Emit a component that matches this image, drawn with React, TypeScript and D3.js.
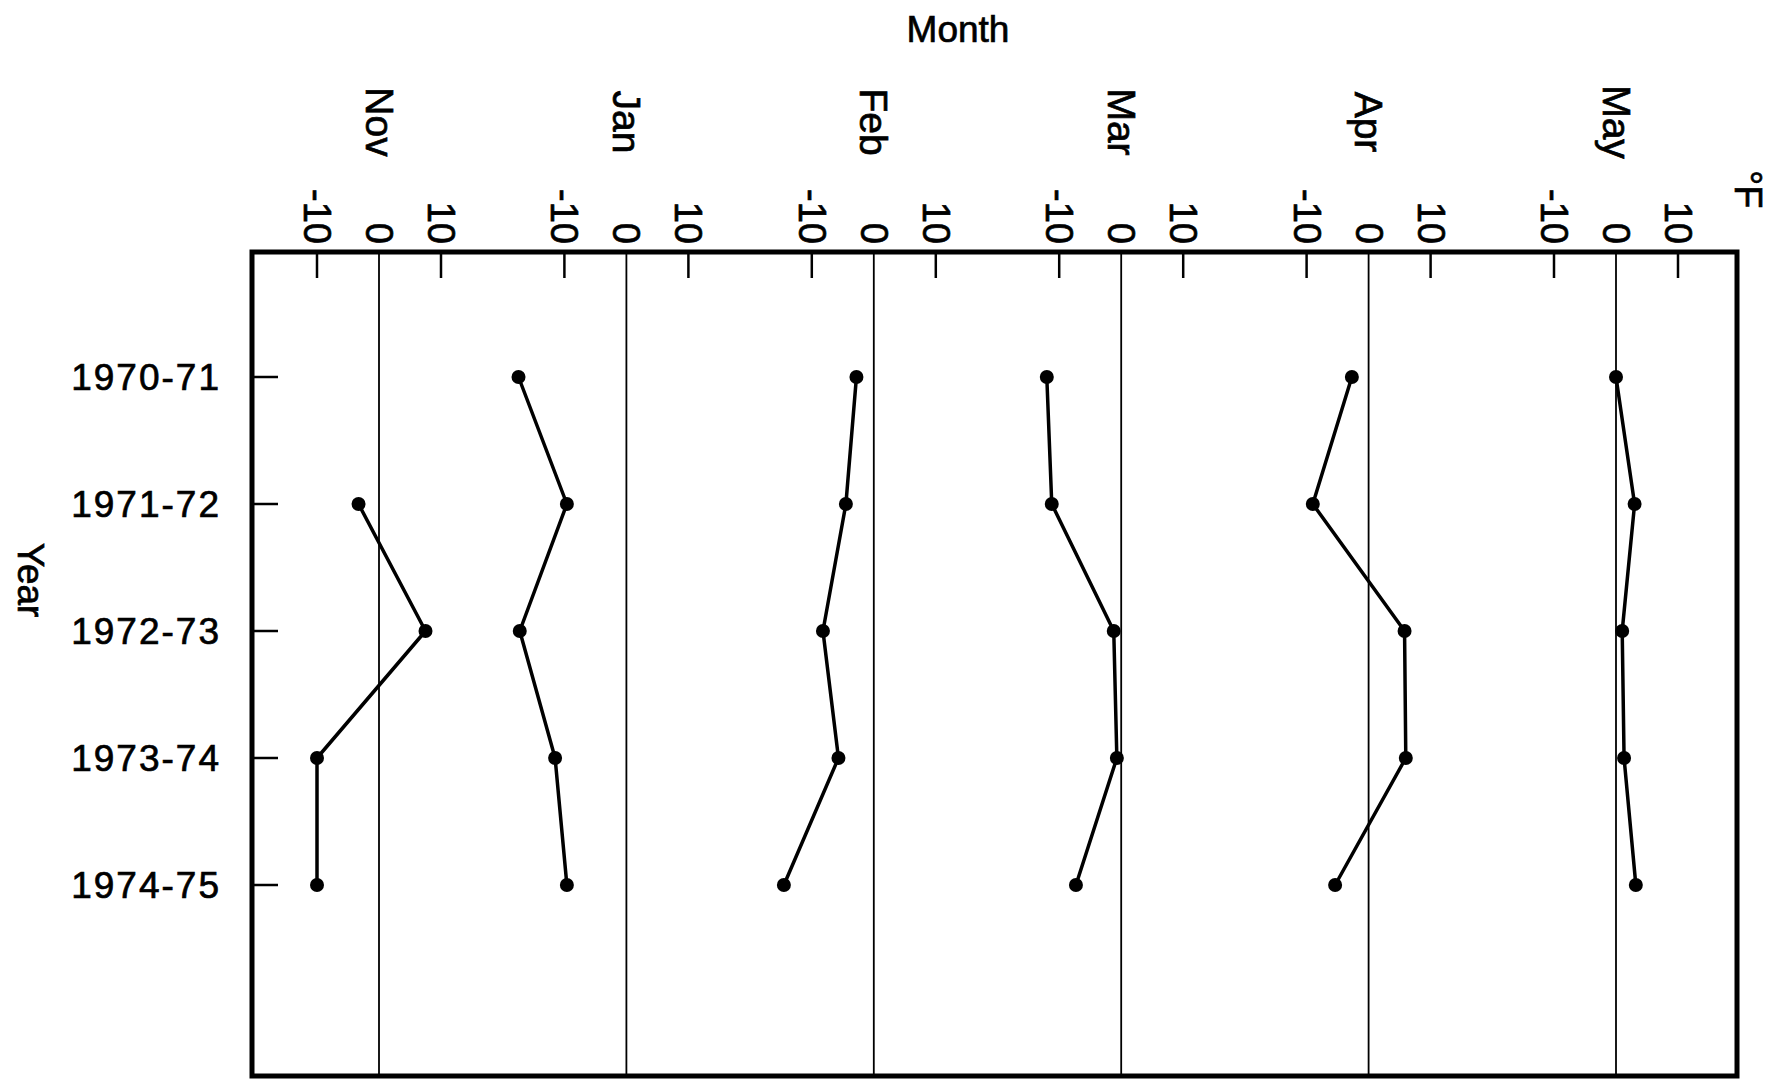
import React from 'react'
import * as d3 from 'd3'

const months = ['Nov', 'Jan', 'Feb', 'Mar', 'Apr', 'May']
const years = ['1970-71', '1971-72', '1972-73', '1973-74', '1974-75']
const tickValues = [-10, 0, 10]

// departure from normal, °F, one value per year (null = no reading)
const nov = [null, -3.3, 7.5, -10, -10]
const jan = [-17.4, -9.6, -17.2, -11.5, -9.6]
const feb = [-2.8, -4.5, -8.2, -5.7, -14.5]
const mar = [-12, -11.2, -1.2, -0.7, -7.3]
const apr = [-2.7, -9, 5.8, 6, -5.4]
const may = [0, 3, 1, 1.3, 3.2]

const series: (number | null)[][] = [nov, jan, feb, mar, apr, may]

const W = 1769
const H = 1079
const frame = { left: 252, top: 252, right: 1737, bottom: 1076 }
const font = '"Liberation Sans", Arial, sans-serif'
// scanned lettering is a little heavier than the plain font
const ink = { fill: '#000', stroke: '#000', strokeWidth: 0.7 }

function App() {
    const xMonth = d3.scalePoint<string>().domain(months).range([379, 1616])
    const xTemp = d3.scaleLinear().domain([-10, 10]).range([-62, 62])
    const y = d3.scalePoint<string>().domain(years).range([377, 885])

    const line = (mi: number) =>
        d3.line<number | null>()
            .defined(v => v !== null)
            .x(v => (xMonth(months[mi]) as number) + xTemp(v as number))
            .y((_, i) => y(years[i]) as number)

    return (
        <svg width={W} height={H} style={{ position: 'absolute', left: 0, top: 0, background: '#fff' }}>
            <text x={958} y={42} fontFamily={font} fontSize={37} textAnchor="middle" {...ink}>Month</text>

            {months.map((m, mi) => {
                const cx = xMonth(m) as number
                return (
                    <g key={m}>
                        <text transform={`translate(${cx},122) rotate(90)`} fontFamily={font} fontSize={39}
                            textAnchor="middle" dominantBaseline="central" {...ink}>{m}</text>
                        {tickValues.map(t => (
                            <g key={t}>
                                <text transform={`translate(${cx + xTemp(t)},244) rotate(90)`} fontFamily={font}
                                    fontSize={38} textAnchor="end" dominantBaseline="central" {...ink}>{t}</text>
                                {t === 0
                                    ? <line x1={cx} x2={cx} y1={frame.top} y2={frame.bottom} stroke="#000" strokeWidth={1.8} />
                                    : <line x1={cx + xTemp(t)} x2={cx + xTemp(t)} y1={frame.top} y2={frame.top + 26} stroke="#000" strokeWidth={2.5} />}
                            </g>
                        ))}
                    </g>
                )
            })}

            <text transform="translate(1748,170) rotate(90)" fontFamily={font} fontSize={38} dominantBaseline="central" {...ink}>°F</text>

            {years.map(yr => (
                <g key={yr}>
                    <line x1={frame.left} x2={frame.left + 26} y1={y(yr)} y2={y(yr)} stroke="#000" strokeWidth={2.5} />
                    <text x={221} y={y(yr)} fontFamily={font} fontSize={37} letterSpacing={2}
                        textAnchor="end" dominantBaseline="central" {...ink}>{yr}</text>
                </g>
            ))}

            <text transform="translate(30,580) rotate(90)" fontFamily={font} fontSize={37}
                textAnchor="middle" dominantBaseline="central" {...ink}>Year</text>

            <rect x={frame.left} y={frame.top} width={frame.right - frame.left} height={frame.bottom - frame.top}
                fill="none" stroke="#000" strokeWidth={5} />

            {series.map((vals, mi) => (
                <g key={months[mi]}>
                    <path d={line(mi)(vals) || ''} fill="none" stroke="#000" strokeWidth={3.5} strokeLinejoin="round" />
                    {vals.map((v, i) => v === null ? null : (
                        <circle key={i} cx={(xMonth(months[mi]) as number) + xTemp(v)} cy={y(years[i]) as number} r={7} fill="#000" />
                    ))}
                </g>
            ))}
        </svg>
    )
}

export default App
